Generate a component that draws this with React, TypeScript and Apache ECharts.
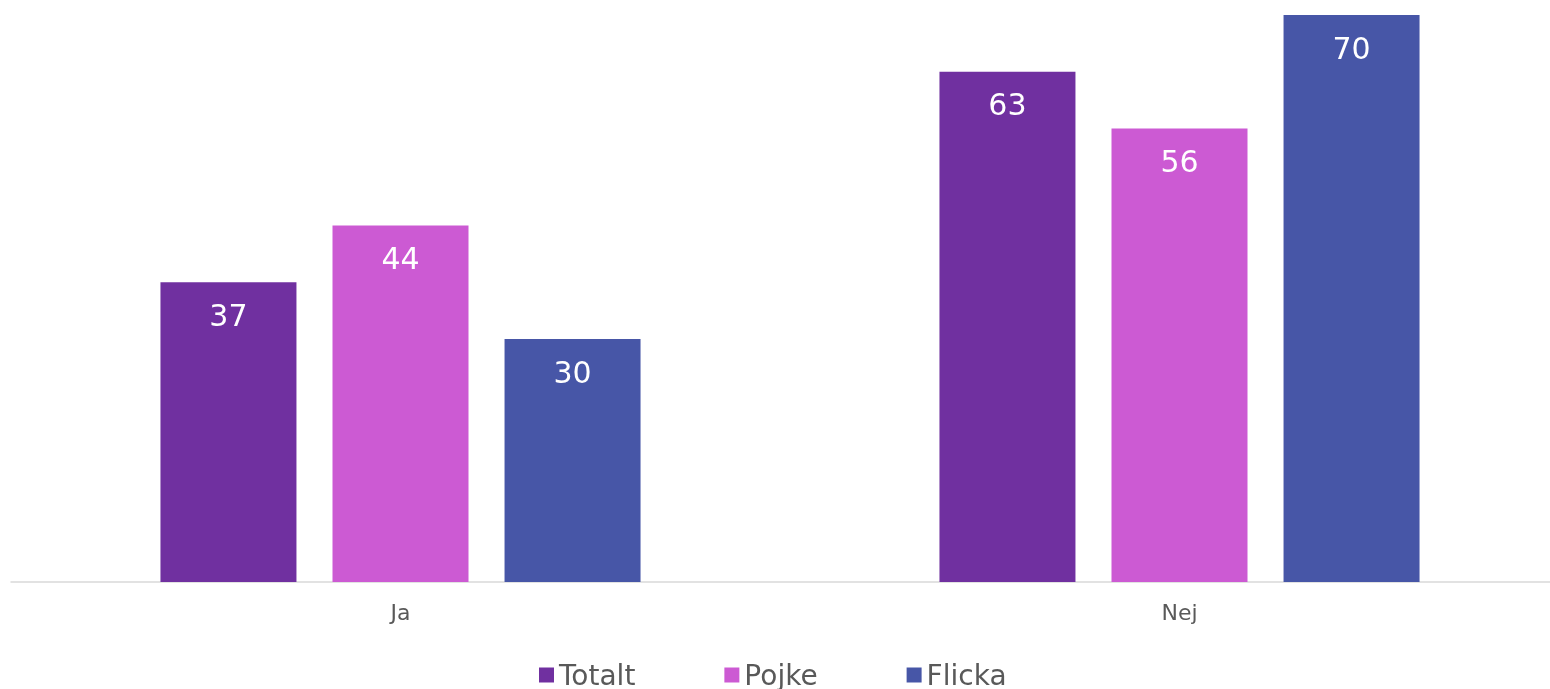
import React, { useEffect, useRef } from "react";
import * as echarts from "echarts";

const categories = ["Ja", "Nej"];
const seriesNames = ["Totalt", "Pojke", "Flicka"];
const totalt = [37, 63];
const pojke = [44, 56];
const flicka = [30, 70];
const colors = ["#7030A0", "#CC5AD3", "#4756A7"];

export default function App() {
  const ref = useRef<HTMLDivElement>(null);
  useEffect(() => {
    if (!ref.current) return;
    const chart = echarts.init(ref.current, undefined, { renderer: "svg" });
    const values = [totalt, pojke, flicka];
    chart.setOption({
      animation: false,
      textStyle: { fontFamily: "DejaVu Sans" },
      grid: { left: 11, top: 15, width: 1558, bottom: 107, containLabel: false },
      legend: {
        data: seriesNames,
        left: 534,
        top: 656,
        itemWidth: 15,
        itemHeight: 15,
        itemGap: 89,
        icon: "rect",
        textStyle: { fontSize: 28, color: "#595959", fontFamily: "DejaVu Sans" },
      },
      xAxis: {
        type: "category",
        data: categories,
        axisLine: { lineStyle: { color: "#D9D9D9", width: 1.5 } },
        axisTick: { show: false },
        axisLabel: { fontSize: 22, color: "#595959", margin: 19, fontFamily: "DejaVu Sans" },
      },
      yAxis: {
        type: "value",
        min: 0,
        max: 70,
        show: false,
        splitLine: { show: false },
      },
      series: seriesNames.map((name, i) => ({
        name,
        type: "bar",
        data: values[i],
        barWidth: 136,
        barGap: "26.5%",
        itemStyle: { color: colors[i] },
        label: {
          show: true,
          position: "insideTop",
          distance: 18,
          color: "#ffffff",
          fontSize: 30,
          fontFamily: "DejaVu Sans",
        },
      })),
    });
    return () => chart.dispose();
  }, []);
  return (
    <div style={{ position: "fixed", left: 0, top: 0, width: 1550, height: 689, overflow: "hidden" }}>
      <div ref={ref} style={{ width: 1570, height: 689 }} />
    </div>
  );
}
